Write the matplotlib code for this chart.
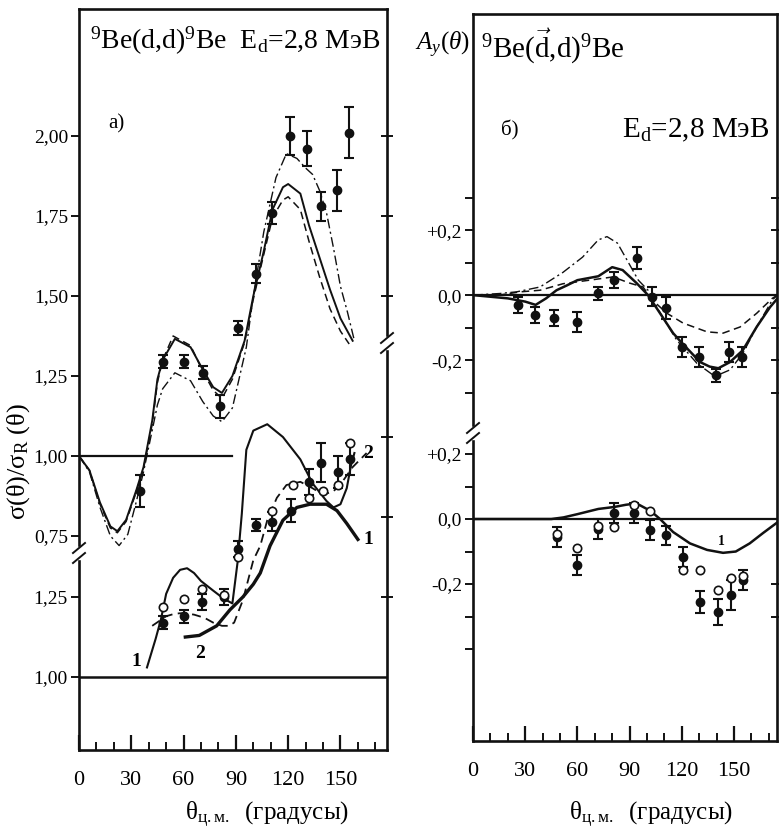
import matplotlib
matplotlib.use('Agg')
import matplotlib.pyplot as plt
from matplotlib.lines import Line2D
from matplotlib.patches import Rectangle

plt.rcParams['font.family'] = ['Liberation Serif', 'DejaVu Serif']
plt.rcParams['mathtext.fontset'] = 'custom'
plt.rcParams['mathtext.rm'] = 'Liberation Serif'
plt.rcParams['mathtext.it'] = 'Liberation Serif:italic'
plt.rcParams['mathtext.bf'] = 'Liberation Serif:bold'

# ---------------- data: left panel, upper set (a) ----------------
a_pts_x = [35, 48, 60, 71, 81, 91, 101.5, 111, 121, 131, 139, 148, 155]
a_pts_y = [0.89, 1.295, 1.295, 1.26, 1.155, 1.40, 1.57, 1.76, 2.00, 1.96, 1.78, 1.83, 2.01]
a_pts_e = [0.05, 0.02, 0.02, 0.02, 0.035, 0.022, 0.03, 0.035, 0.06, 0.055, 0.045, 0.065, 0.08]

a_solid_x = [0, 6, 12, 18, 22, 27, 33, 37, 42, 45, 48, 55, 64, 71, 77, 82, 88, 95, 100, 106, 111, 117, 120, 127, 132, 138, 144, 150, 157]
a_solid_y = [1.00, 0.955, 0.855, 0.78, 0.765, 0.80, 0.895, 0.965, 1.11, 1.24, 1.30, 1.366, 1.34, 1.27, 1.215, 1.197, 1.25, 1.36, 1.50, 1.64, 1.77, 1.84, 1.85, 1.82, 1.72, 1.62, 1.52, 1.43, 1.36]

a_dash_x = [0, 6, 12, 18, 22, 27, 33, 37, 42, 45, 48, 54, 64, 71, 77, 82, 88, 95, 100, 106, 111, 117, 120, 127, 132, 138, 144, 150, 155]
a_dash_y = [1.00, 0.955, 0.85, 0.775, 0.76, 0.795, 0.89, 0.96, 1.10, 1.23, 1.30, 1.375, 1.345, 1.265, 1.205, 1.18, 1.24, 1.355, 1.49, 1.63, 1.745, 1.80, 1.81, 1.77, 1.67, 1.56, 1.46, 1.39, 1.35]

a_dd_x = [0, 6, 12, 18, 23, 28, 33, 37, 42, 45, 48, 55, 64, 71, 77, 82, 88, 96, 100, 106, 113, 119, 125, 130, 134, 138, 142, 146, 150, 154, 158]
a_dd_y = [1.00, 0.95, 0.84, 0.75, 0.72, 0.755, 0.86, 0.95, 1.08, 1.16, 1.21, 1.26, 1.235, 1.17, 1.125, 1.107, 1.15, 1.34, 1.50, 1.70, 1.87, 1.945, 1.93, 1.90, 1.88, 1.83, 1.76, 1.65, 1.53, 1.45, 1.36]

a_ref_x = [0, 88]
a_ref_y = [1.00, 1.00]

# ---------------- data: left panel, lower set ----------------
b_full_x = [48, 60, 70.5, 83, 91, 101.5, 110.5, 121.5, 132, 139, 148.6, 155.5]
b_full_y = [1.17, 1.19, 1.235, 1.25, 1.40, 1.475, 1.485, 1.52, 1.61, 1.67, 1.64, 1.68]
b_full_e = [0.02, 0.02, 0.025, 0.025, 0.025, 0.02, 0.03, 0.035, 0.04, 0.06, 0.05, 0.05]

b_open_x = [48, 60.5, 70.5, 83, 91, 110.6, 122.7, 132, 140, 148.6, 155.5]
b_open_y = [1.22, 1.245, 1.275, 1.255, 1.375, 1.52, 1.60, 1.56, 1.58, 1.60, 1.73]

b_c1_x = [39, 44, 47, 50, 54, 58, 62, 66, 70, 77, 83, 88, 91, 93.4, 96, 100, 108, 117, 127, 134, 142, 146, 150, 153.6, 156, 158]
b_c1_y = [1.03, 1.12, 1.18, 1.26, 1.31, 1.335, 1.34, 1.325, 1.30, 1.27, 1.245, 1.23, 1.36, 1.51, 1.71, 1.77, 1.79, 1.75, 1.68, 1.605, 1.55, 1.53, 1.54, 1.59, 1.66, 1.70]

b_c2_x = [61, 69, 79, 86.6, 94, 100, 104, 109.6, 117, 125, 132.5, 142, 148, 153.6, 160]
b_c2_y = [1.125, 1.13, 1.16, 1.21, 1.25, 1.29, 1.325, 1.41, 1.49, 1.53, 1.54, 1.54, 1.52, 1.48, 1.43]

b_dash_x = [42, 46, 50, 55, 60, 66, 72, 77, 82, 86, 89, 94, 100, 104, 108, 113.5, 119, 127, 134, 140, 146, 151.7, 157, 165]
b_dash_y = [1.16, 1.175, 1.19, 1.198, 1.20, 1.195, 1.185, 1.17, 1.16, 1.16, 1.17, 1.24, 1.365, 1.41, 1.49, 1.56, 1.60, 1.61, 1.59, 1.57, 1.58, 1.615, 1.656, 1.70]

b_ref_x = [0, 177]
b_ref_y = [1.00, 1.00]

# ---------------- data: right panel, upper set (б) ----------------
c_pts_x = [26, 35.6, 46.6, 60, 72, 81, 94, 103, 111, 120, 130, 139.6, 147, 154.6]
c_pts_y = [-0.03, -0.062, -0.07, -0.082, 0.005, 0.046, 0.114, -0.005, -0.04, -0.16, -0.19, -0.246, -0.175, -0.19]
c_pts_e = [0.025, 0.025, 0.025, 0.03, 0.02, 0.025, 0.035, 0.03, 0.035, 0.03, 0.03, 0.02, 0.03, 0.03]

c_solid_x = [0, 10, 20, 30, 36, 42, 48, 54, 60, 66, 72, 80, 86, 94, 100.6, 107.5, 115, 120, 125, 130.5, 136, 141, 147.7, 155, 163, 170.7, 175]
c_solid_y = [0.0, -0.005, -0.01, -0.02, -0.03, -0.01, 0.015, 0.03, 0.046, 0.052, 0.058, 0.086, 0.077, 0.037, 0.0, -0.056, -0.117, -0.147, -0.175, -0.206, -0.22, -0.225, -0.206, -0.17, -0.098, -0.037, -0.01]

c_dd_x = [0, 15.5, 25, 38.5, 51.7, 63, 72, 77, 83, 88.5, 95, 100.6, 105.6, 117, 128.7, 139, 147.7, 155, 163, 172, 175]
c_dd_y = [0.0, 0.005, 0.01, 0.025, 0.07, 0.117, 0.17, 0.18, 0.16, 0.108, 0.046, 0.015, -0.037, -0.138, -0.21, -0.25, -0.23, -0.18, -0.098, -0.015, 0.0]

c_dash_x = [0, 15, 27, 38.5, 51.7, 67, 80.5, 90, 97.7, 103, 111.5, 120.7, 134.5, 143.7, 153.5, 163, 172, 175]
c_dash_y = [0.0, 0.0, 0.01, 0.015, 0.035, 0.046, 0.056, 0.037, 0.025, -0.015, -0.056, -0.086, -0.113, -0.117, -0.098, -0.056, -0.01, 0.0]

c_ref_x = [0, 175]
c_ref_y = [0.0, 0.0]

# ---------------- data: right panel, lower set ----------------
d_full_x = [48, 60, 72, 81, 92.5, 102, 111, 120.7, 130.5, 140.8, 148, 155]
d_full_y = [-0.055, -0.142, -0.03, 0.018, 0.018, -0.034, -0.05, -0.117, -0.255, -0.286, -0.234, -0.188]
d_full_e = [0.03, 0.03, 0.03, 0.03, 0.03, 0.03, 0.03, 0.03, 0.035, 0.04, 0.045, 0.03]

d_open_x = [48, 60, 72, 81, 92.5, 102, 120.7, 130.5, 140.8, 148, 155]
d_open_y = [-0.045, -0.09, -0.02, -0.025, 0.043, 0.025, -0.157, -0.157, -0.218, -0.18, -0.175]

d_solid_x = [0, 30, 45, 52, 60, 72, 81, 88, 94, 102, 107.5, 115, 124.7, 134.5, 143.7, 151, 159, 166.7, 175]
d_solid_y = [0, 0, 0, 0.005, 0.015, 0.031, 0.037, 0.044, 0.048, 0.025, 0.0, -0.04, -0.075, -0.095, -0.104, -0.1, -0.075, -0.043, -0.01]

d_ref_x = [0, 175]
d_ref_y = [0.0, 0.0]

x_major = [0, 30, 60, 90, 120, 150]
x_minor = [10, 20, 40, 50, 70, 80, 100, 110, 130, 140, 160, 170]

# ---------------- figure ----------------
W, H = 779, 838
fig = plt.figure(figsize=(W / 100, H / 100), dpi=100)


def rect(x0, y0, x1, y1):
    return [x0 / W, 1 - y1 / H, (x1 - x0) / W, (y1 - y0) / H]


def fx(px):
    return px / W


def fy(py):
    return 1 - py / H


LW_SP = 1.9
ink = '#111111'


def style_main(ax, xmax):
    ax.set_xlim(0, xmax)
    for s in ax.spines.values():
        s.set_linewidth(LW_SP)
        s.set_color(ink)
    ax.set_xticks(x_major)
    ax.set_xticklabels([str(v) for v in x_major])
    ax.set_xticks(x_minor, minor=True)
    ax.tick_params(axis='x', which='major', direction='in', length=11, width=1.6,
                   labelsize=16, pad=15, color=ink)
    ax.tick_params(axis='x', which='minor', direction='in', length=6, width=1.4, color=ink)
    ax.tick_params(axis='y', which='both', direction='out', length=6, width=1.4,
                   labelsize=14, pad=2, color=ink)


def overlay(rect_, ylim, host):
    ax = fig.add_axes(rect_, sharex=host)
    ax.patch.set_visible(False)
    for s in ax.spines.values():
        s.set_visible(False)
    ax.set_ylim(*ylim)
    ax.tick_params(axis='x', which='both', bottom=False, labelbottom=False)
    ax.tick_params(axis='y', which='both', direction='out', length=6, width=1.4,
                   labelsize=14, pad=2, color=ink)
    return ax


def right_ticks(ax, ticks):
    sec = ax.secondary_yaxis('right')
    sec.spines['right'].set_visible(False)
    sec.set_yticks(ticks)
    sec.set_yticklabels([])
    sec.tick_params(direction='inout', length=8, width=1.4, color=ink)
    sec.yaxis.set_minor_locator(matplotlib.ticker.NullLocator())


def brk(px, py):
    fig.add_artist(Rectangle((fx(px - 5), fy(py + 6)), 10 / W, 12 / H,
                             transform=fig.transFigure, color='white', zorder=20))
    for d in (-5, 5):
        fig.add_artist(Line2D([fx(px - 6), fx(px + 6)], [fy(py + d + 5), fy(py + d - 5)],
                              transform=fig.transFigure, color=ink, lw=1.4, zorder=21))


ebkw = dict(fmt='o', color=ink, ms=6, capsize=3.5, elinewidth=1.5, capthick=1.5, zorder=5)
opkw = dict(marker='o', ls='none', mfc='white', mec=ink, ms=6, mew=1.2, zorder=6)

# ---- left panel ----
rL = rect(79, 9, 387, 750)
axA = fig.add_axes(rL)
style_main(axA, 176.7)
axA.set_ylim(0.081, 2.397)
axA.set_yticks([0.75, 1.00, 1.25, 1.50, 1.75, 2.00])
axA.set_yticklabels(['0,75', '1,00', '1,25', '1,50', '1,75', '2,00'])
right_ticks(axA, [1.50, 1.75, 2.00])

axA.plot(a_ref_x, a_ref_y, color=ink, lw=1.6)
axA.plot(a_solid_x, a_solid_y, color=ink, lw=1.4)
axA.plot(a_dash_x, a_dash_y, color=ink, lw=1.1, dashes=(5, 3))
axA.plot(a_dd_x, a_dd_y, color=ink, lw=1.0, dashes=(7, 2.5, 1.5, 2.5))
axA.errorbar(a_pts_x, a_pts_y, yerr=a_pts_e, **ebkw)

axB = overlay(rL, (0.772, 3.0875), axA)
axB.set_yticks([1.00, 1.25])
axB.set_yticklabels(['1,00', '1,25'])
right_ticks(axB, [1.25, 1.50, 1.75])
axB.plot(b_ref_x, b_ref_y, color=ink, lw=1.8)
axB.plot(b_c1_x, b_c1_y, color=ink, lw=1.5)
axB.plot(b_c2_x, b_c2_y, color=ink, lw=2.4)
axB.plot(b_dash_x, b_dash_y, color=ink, lw=1.3, dashes=(5, 3))
axB.errorbar(b_full_x, b_full_y, yerr=b_full_e, **ebkw)
axB.plot(b_open_x, b_open_y, **opkw)
axB.text(33, 1.05, '1', fontsize=14, fontweight='bold', ha='center', va='center')
axB.text(69.5, 1.075, '2', fontsize=14, fontweight='bold', ha='center', va='center')
axB.text(166, 1.43, '1', fontsize=14, fontweight='bold', ha='center', va='center')
axB.text(166, 1.70, '2', fontsize=14, fontweight='bold', ha='center', va='center')

axA.text(0.035, 0.957, r'$^{9}$Be(d,d)$^{9}$Be  E$_{\mathrm{d}}$=2,8 МэВ',
         transform=axA.transAxes, fontsize=20, ha='left', va='center')
axA.text(0.12, 0.845, 'а)', transform=axA.transAxes, fontsize=15, ha='center', va='center')

# ---- right panel ----
rR = rect(473, 14, 777, 741)
axC = fig.add_axes(rR)
style_main(axC, 174.7)
axC.set_ylim(-1.372, 0.865)
axC.set_yticks([-0.3, -0.2, -0.1, 0.0, 0.1, 0.2, 0.3])
axC.set_yticklabels(['', '-0,2', '', '0,0', '', '+0,2', ''])
right_ticks(axC, [-0.3, -0.2, -0.1, 0.1, 0.2, 0.3])
axC.plot(c_ref_x, c_ref_y, color=ink, lw=1.6)
axC.plot(c_solid_x, c_solid_y, color=ink, lw=1.8)
axC.plot(c_dash_x, c_dash_y, color=ink, lw=1.1, dashes=(5, 3))
axC.plot(c_dd_x, c_dd_y, color=ink, lw=1.0, dashes=(7, 2.5, 1.5, 2.5))
axC.errorbar(c_pts_x, c_pts_y, yerr=c_pts_e, **ebkw)

axD = overlay(rR, (-0.683, 1.554), axC)
axD.set_yticks([-0.4, -0.3, -0.2, -0.1, 0.0, 0.1, 0.2])
axD.set_yticklabels(['', '', '-0,2', '', '0,0', '', '+0,2'])
right_ticks(axD, [-0.3, -0.2])
axD.plot(d_ref_x, d_ref_y, color=ink, lw=1.6)
axD.plot(d_solid_x, d_solid_y, color=ink, lw=1.8)
axD.errorbar(d_full_x, d_full_y, yerr=d_full_e, **ebkw)
axD.plot(d_open_x, d_open_y, **opkw)
axD.text(143, -0.07, '1', fontsize=10, fontweight='bold', ha='center', va='center')

axC.text(0.025, 0.955, r'$^{9}$Be($\vec{\mathrm{d}}$,d)$^{9}$Be',
         transform=axC.transAxes, fontsize=21, ha='left', va='center')
axC.text(0.12, 0.84, 'б)', transform=axC.transAxes, fontsize=15, ha='center', va='center')
axC.text(0.975, 0.84, r'E$_{\mathrm{d}}$=2,8 МэВ', transform=axC.transAxes,
         fontsize=21, ha='right', va='center')

# outside labels
fig.text(fx(442), fy(45), r'$A_{y}(\theta)$', fontsize=18, ha='center', va='center')
fig.text(fx(19), fy(462), r'σ(θ)/σ$_{\mathrm{R}}$ (θ)', rotation=90, fontsize=19,
         ha='center', va='center')
fig.text(fx(267), fy(815), r'$\mathrm{θ}_{\mathrm{ц.м.}}$  (градусы)', fontsize=18,
         ha='center', va='center')
fig.text(fx(651), fy(815), r'$\mathrm{θ}_{\mathrm{ц.м.}}$  (градусы)', fontsize=18,
         ha='center', va='center')

# axis breaks
brk(79, 553)
brk(387, 343)
brk(473, 433)

fig.savefig('out.png', dpi=100)
